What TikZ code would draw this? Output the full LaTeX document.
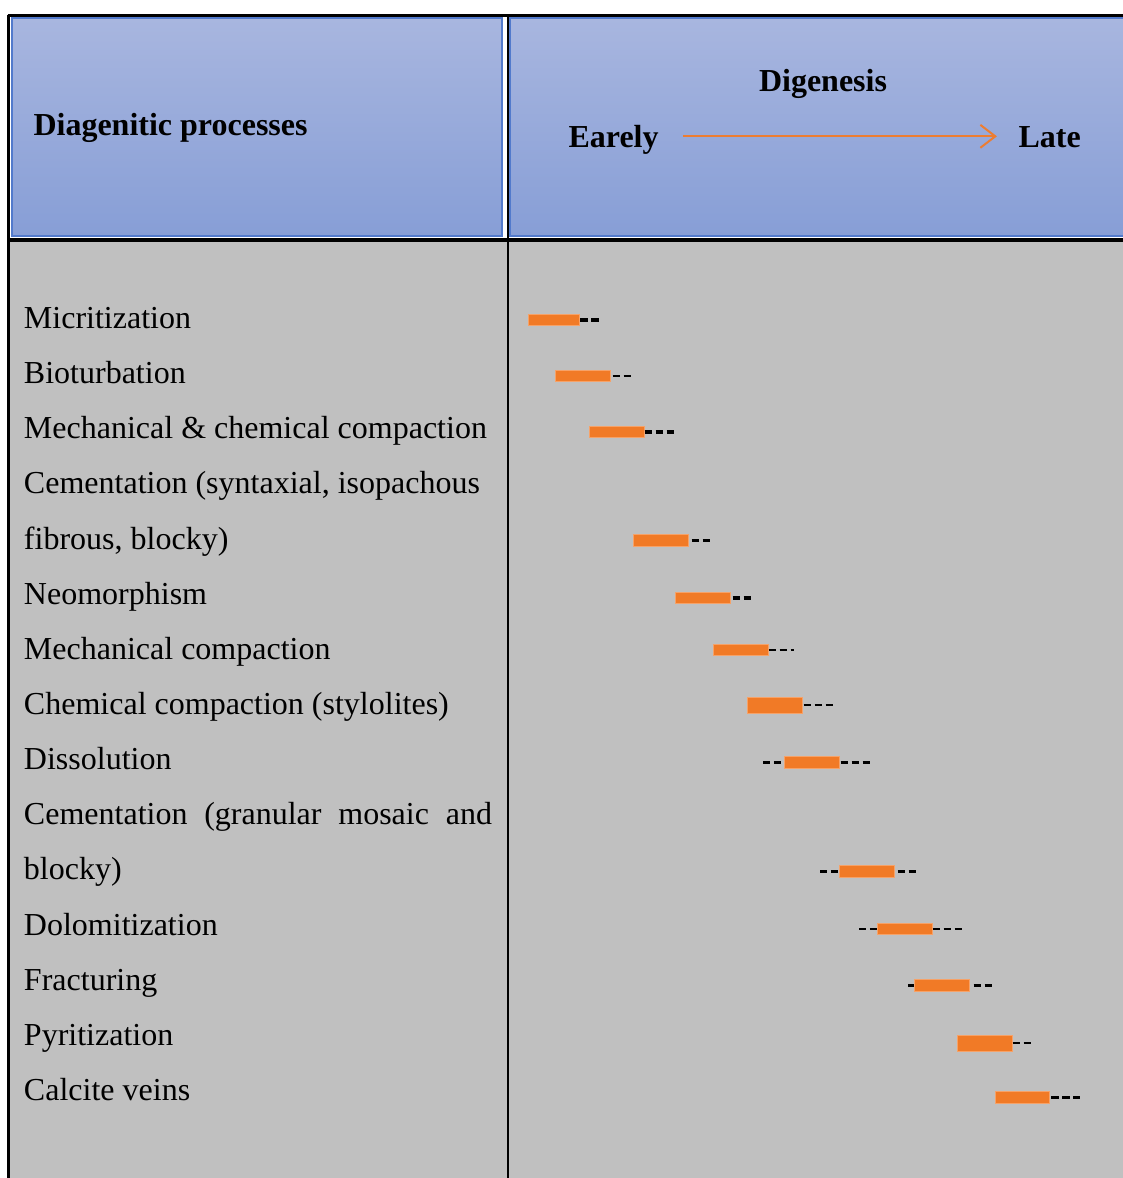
\documentclass[tikz,border=0pt]{standalone}
\usepackage{fontspec}
\setmainfont{Liberation Serif}
\usetikzlibrary{positioning,arrows.meta}
\definecolor{HeadTop}{RGB}{168,182,223}
\definecolor{HeadBottom}{RGB}{135,158,214}
\definecolor{HeadEdge}{RGB}{82,122,204}
\definecolor{BodyGrey}{RGB}{192,192,192}
\definecolor{BarOrange}{RGB}{241,122,38}
\definecolor{BarEdge}{RGB}{246,162,104}
\definecolor{ArrowOrange}{RGB}{237,125,49}
\tikzset{
  head cell/.style={draw=HeadEdge, line width=0.4pt, top color=HeadTop, bottom color=HeadBottom},
  head text/.style={font=\fontsize{12}{14.4}\selectfont\bfseries, inner sep=0pt},
  end text/.style={head text, text height=8pt, text depth=0pt},
  rule line/.style={line width=1.1pt, black},
  proc label/.style={inner sep=0pt, outer sep=0pt, text height=14.7pt, text depth=5.98pt, anchor=north west},
  stage bar/.style={draw=BarEdge, fill=BarOrange, line width=0.3pt, inner sep=0pt,
    minimum width=20.6pt, minimum height=4.4pt, anchor=west},
  tall bar/.style={stage bar, minimum height=6pt},
  stage dash/.style={line width=0.8pt, dash pattern=on 2.8pt off 1.3pt},
  stage dash bold/.style={stage dash, line width=1.25pt},
  time arrow/.style={ArrowOrange, line width=0.75pt, -{Straight Barb[length=5.6pt,width=8.6pt]}}
}
\begin{document}
\begin{tikzpicture}[x=0.375pt, y=-0.375pt, font=\fontsize{12}{14.4}\selectfont]
\useasboundingbox[fill=white] (0,0) rectangle (1123,1178);
% header cells and grey body
\path[head cell] (12,18) rectangle (502,236);
\path[head cell] (510,18) rectangle (1135,236);
\fill[BodyGrey] (9,241) rectangle (1123,1178);
\draw[rule line] (7.5,15.5) -- (1123,15.5);
\draw[rule line] (8.5,15) -- (8.5,1178);
\draw[rule line] (508,15) -- (508,1178);
\draw[line width=1.5pt] (7.5,239.5) -- (1123,239.5);

% header text
\node[head text, anchor=base west] (proc) at (33,135) {Diagenitic processes};
\node[head text, anchor=base] (dig) at (823,91) {Digenesis};
\node[end text, anchor=base west] (early) at (568,147) {Earely};
\node[end text, anchor=base west] (late) at (1018,147) {Late};
\draw[time arrow, shorten <=9pt, shorten >=7.9pt] (early) -- (late);

% processes
\node[proc label] (l1) at (24,289.3) {Micritization};
\node[proc label, below right=0pt and 0pt of l1.south west] (l2) {Bioturbation};
\node[proc label, below right=0pt and 0pt of l2.south west] (l3) {Mechanical \& chemical compaction};
\node[proc label, below right=0pt and 0pt of l3.south west] (l4) {Cementation (syntaxial, isopachous};
\node[proc label, below right=0pt and 0pt of l4.south west] (l4b) {fibrous, blocky)};
\node[proc label, below right=0pt and 0pt of l4b.south west] (l5) {Neomorphism};
\node[proc label, below right=0pt and 0pt of l5.south west] (l6) {Mechanical compaction};
\node[proc label, below right=0pt and 0pt of l6.south west] (l7) {Chemical compaction (stylolites)};
\node[proc label, below right=0pt and 0pt of l7.south west] (l8) {Dissolution};
\node[proc label, below right=0pt and 0pt of l8.south west] (l9) {\makebox[175.5pt][s]{Cementation (granular mosaic and}};
\node[proc label, below right=0pt and 0pt of l9.south west] (l9b) {blocky)};
\node[proc label, below right=0pt and 0pt of l9b.south west] (l10) {Dolomitization};
\node[proc label, below right=0pt and 0pt of l10.south west] (l11) {Fracturing};
\node[proc label, below right=0pt and 0pt of l11.south west] (l12) {Pyritization};
\node[proc label, below right=0pt and 0pt of l12.south west] (l13) {Calcite veins};

% timing bars
\node[stage bar, minimum width=19pt] (b1) at (528,320) {};
\node[stage bar] (b2) at (555,376) {};
\node[stage bar] (b3) at (589,432) {};
\node[stage bar] (b4) at (633,540.5) {};
\node[stage bar] (b5) at (675,598) {};
\node[stage bar] (b6) at (713,650) {};
\node[tall bar] (b7) at (747,705) {};
\node[stage bar] (b8) at (784,762.5) {};
\node[stage bar] (b9) at (839,871.5) {};
\node[stage bar] (b10) at (877,929) {};
\node[stage bar] (b11) at (914,985.5) {};
\node[tall bar] (b12) at (957,1043) {};
\node[stage bar] (b13) at (994.5,1097.5) {};

% uncertain ranges
\draw[stage dash bold] (b1.east) ++(1,0) -- ++(19,0);
\draw[stage dash] (b2.east) ++(2,0) -- ++(19,0);
\draw[stage dash bold] (b3.east) -- ++(29,0);
\draw[stage dash] (b4.east) ++(3,0) -- ++(19,0);
\draw[stage dash bold] (b5.east) ++(2,0) -- ++(19,0);
\draw[stage dash] (b6.east) -- ++(25,0);
\draw[stage dash] (b7.east) ++(1,0) -- ++(30,0);
\draw[stage dash] (b8.west) ++(-21,0) -- ++(19,0);
\draw[stage dash] (b8.east) ++(1,0) -- ++(30,0);
\draw[stage dash] (b9.west) ++(-19,0) -- ++(19,0);
\draw[stage dash] (b9.east) ++(3,0) -- ++(19,0);
\draw[stage dash] (b10.west) ++(-18,0) -- ++(18,0);
\draw[stage dash] (b10.east) -- ++(29,0);
\draw[stage dash] (b11.west) ++(-6,0) -- ++(6,0);
\draw[stage dash] (b11.east) ++(4,0) -- ++(19,0);
\draw[stage dash] (b12.east) -- ++(19,0);
\draw[stage dash] (b13.east) ++(1,0) -- ++(29,0);
\end{tikzpicture}
\end{document}
